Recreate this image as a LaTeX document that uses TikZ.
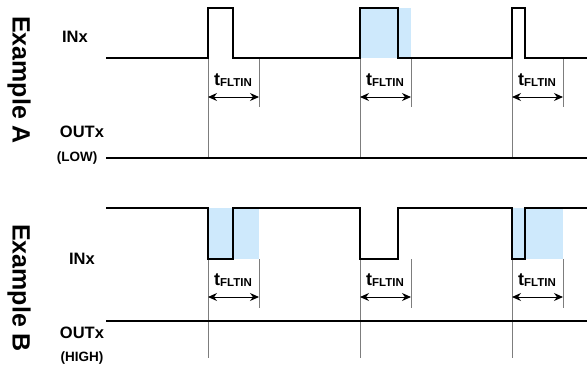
\documentclass[tikz,border=0pt]{standalone}
\usepackage{fontspec}
\setmainfont{Liberation Sans}
\usetikzlibrary{arrows.meta}
\definecolor{fltblue}{RGB}{206,233,252}
\definecolor{guidegray}{RGB}{125,125,125}
\tikzset{
  sig/.style={draw=black,line width=1.9pt,line join=miter},
  guide/.style={draw=guidegray,line width=0.6pt},
  dimarrow/.style={{Stealth[length=9pt,width=8pt]}-{Stealth[length=9pt,width=8pt]},line width=1pt},
  fltfill/.style={fill=fltblue,draw=none},
  siglabel/.style={font=\bfseries\fontsize{16.5}{18}\selectfont,inner sep=0pt},
  lvllabel/.style={font=\bfseries\fontsize{13.5}{15}\selectfont,inner sep=0pt},
  fltlabel/.style={inner sep=0pt,anchor=base},
  examplelabel/.style={font=\bfseries\fontsize{25}{28}\selectfont,rotate=-90,inner sep=0pt}
}
\newcommand{\tfltin}{\textbf{{\fontsize{18}{18}\selectfont t}\raisebox{-1pt}{\fontsize{11.5}{12}\selectfont FLTIN}}}

\begin{document}
\begin{tikzpicture}[x=1pt,y=-1pt]
\useasboundingbox (0,0) rectangle (587,368);

% filter windows
\fill[fltfill] (360,8) rectangle (411,58);
\fill[fltfill] (208,208) rectangle (259,259);
\fill[fltfill] (512,208) rectangle (563,259);

% side titles
\node[examplelabel] (exa) at (19,80) {Example A};
\node[examplelabel] (exb) at (19,288) {Example B};

% signal names
\node[siglabel] (ina) at (75,37) {INx};
\node[siglabel] (outa) at (82,132) {OUTx};
\node[lvllabel] (lowa) at (77,158) {(LOW)};
\node[siglabel] (inb) at (82,259) {INx};
\node[siglabel] (outb) at (82,333) {OUTx};
\node[lvllabel] (highb) at (82,358) {(HIGH)};

% example A
\foreach \x/\i in {208/1,360/2,512/3}{
  \draw[guide] (\x,58) -- (\x,158);
  \draw[guide] (\x+51,58) -- (\x+51,107);
  \coordinate (al\i) at (\x,97);
  \coordinate (ar\i) at (\x+51,97);
  \draw[dimarrow] (al\i) -- (ar\i);
  \node[fltlabel] (at\i) at (\x+25,85) {\tfltin};
}
\draw[sig] (106,58) -- (208,58) -- (208,8) -- (233,8) -- (233,58)
  -- (360,58) -- (360,8) -- (398,8) -- (398,58)
  -- (512,58) -- (512,8) -- (525,8) -- (525,58) -- (587,58);
\draw[sig] (106,158) -- (587,158);

% example B
\foreach \x/\i in {208/1,360/2,512/3}{
  \draw[guide] (\x,259) -- (\x,358);
  \draw[guide] (\x+51,259) -- (\x+51,308);
  \coordinate (bl\i) at (\x,297);
  \coordinate (br\i) at (\x+51,297);
  \draw[dimarrow] (bl\i) -- (br\i);
  \node[fltlabel] (bt\i) at (\x+25,285) {\tfltin};
}
\draw[sig] (106,208) -- (208,208) -- (208,259) -- (233,259) -- (233,208)
  -- (360,208) -- (360,259) -- (398,259) -- (398,208)
  -- (512,208) -- (512,259) -- (525,259) -- (525,208) -- (587,208);
\draw[sig] (106,321) -- (587,321);
\end{tikzpicture}
\end{document}
